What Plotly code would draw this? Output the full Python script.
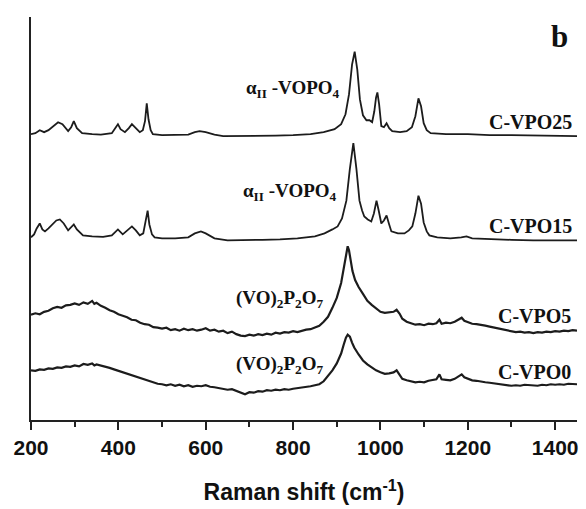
import plotly.graph_objects as go

# ---------------- data (Raman shift in cm-1, intensity in a.u., offset for display) -------------
x_vpo25 = [200, 210, 220, 230, 240, 250, 262, 272, 285, 292, 298, 305, 317, 340, 360, 385, 393, 399,
           405, 415, 424, 431, 440, 449, 456, 461, 465, 469, 474, 479, 500, 530, 560, 575, 586, 600,
           620, 640, 680, 720, 760, 800, 840, 870, 895, 910, 920, 928, 935, 941, 947, 953, 960, 968,
           975, 981, 986, 990, 993, 997, 1002, 1008, 1014, 1020, 1027, 1045, 1060, 1072, 1080, 1087,
           1093, 1099, 1106, 1115, 1150, 1200, 1250, 1300, 1350, 1400, 1450]
y_vpo25 = [288, 289, 292, 290, 292, 296, 300, 298, 291, 295, 301, 294, 289, 288, 287.5, 289, 294, 298,
           293, 290, 294, 298, 294, 290, 292, 301, 319, 303, 292, 288, 287, 287, 287.5, 290, 291, 290,
           287.5, 286, 286, 286, 286.5, 287, 288, 290, 293, 298, 308, 328, 358, 371, 353, 323, 307, 302,
           302, 300, 311, 325, 330, 318, 296, 295, 299, 294, 291, 290, 291, 295, 306, 324,
           316, 299, 292, 289, 288, 288, 287, 287, 286.5, 286, 286]

x_vpo15 = [200, 207, 213, 220, 226, 232, 240, 250, 258, 266, 275, 285, 292, 298, 305, 319, 340, 365,
           385, 393, 399, 410, 422, 431, 440, 449, 457, 462, 467, 471, 477, 483, 500, 530, 560, 575,
           589, 600, 620, 650, 690, 730, 770, 810, 850, 872, 890, 902, 912, 922, 930, 938, 945, 952,
           958, 963, 971, 979, 985, 991, 996, 1002, 1008, 1014, 1020, 1025, 1040, 1055, 1065, 1073,
           1080, 1087, 1093, 1099, 1106, 1112, 1130, 1160, 1185, 1197, 1210, 1250, 1300, 1350, 1400, 1450]
y_vpo15 = [184, 187, 193, 198, 192, 190, 193, 198, 201, 202, 198, 191, 194, 197, 192, 186, 185, 184.5,
           186, 190, 192, 187, 192, 195, 191, 186, 188, 198, 211, 197, 187, 184, 183, 183, 184, 188,
           190, 188, 183, 181, 181, 181.5, 182, 183, 185, 188, 192, 195, 203, 221, 253, 279, 253, 221,
           211, 205, 202, 200, 208, 221, 211, 198, 201, 206, 197, 190, 188, 188, 191, 195,
           208, 226, 218, 199, 190, 186, 184, 183, 184, 185, 183, 182, 181.5, 181, 181, 181]

x_vpo5 = [200, 210, 220, 230, 240, 250, 260, 270, 280, 290, 300, 310, 320, 330, 340, 345, 350, 360,
          370, 380, 390, 400, 410, 420, 430, 440, 450, 460, 470, 480, 490, 500, 510, 520, 530, 540,
          550, 560, 570, 580, 590, 600, 610, 620, 630, 640, 650, 660, 670, 680, 690, 700, 710, 720,
          730, 740, 750, 760, 770, 780, 790, 800, 810, 820, 830, 840, 850, 860, 870, 880, 890, 900,
          910, 917, 922, 925, 928, 932, 936, 942, 950, 960, 970, 980, 990, 1000, 1010, 1020, 1030,
          1037, 1044, 1050, 1060, 1070, 1080, 1090, 1100, 1110, 1120, 1128, 1135, 1140, 1150, 1160,
          1170, 1180, 1186, 1192, 1200, 1210, 1220, 1230, 1240, 1250, 1260, 1270, 1280, 1290, 1300,
          1310, 1320, 1330, 1340, 1350, 1360, 1370, 1380, 1390, 1400, 1410, 1420, 1430, 1440, 1450]
y_vpo5 = [106, 107.5, 106.5, 109, 110, 112.5, 114, 113, 115.5, 116, 117.5, 116, 118.5, 117, 120, 117, 118, 115,
          113, 110.5, 109, 106.5, 105, 103.5, 101, 100.5, 98, 96.5, 96, 93.5, 93, 92, 93, 90.5, 91.5, 90,
          92, 90.5, 91.5, 90, 91, 92.5, 90, 91, 89, 90, 87.5, 89, 86.5, 85, 84.5, 86, 85, 86.5,
          85.5, 87, 86, 88, 87, 88.5, 88, 89.5, 88.5, 90, 91, 91.5, 93, 95, 99, 104, 113, 123,
          138, 155, 168, 175, 171, 160, 150, 141, 134, 127, 120, 116, 112.5, 109, 108, 108.5, 109,
          111, 107, 102, 99, 97.5, 96, 96.5, 95.5, 97, 96.5, 97.5, 101, 97, 98, 97.5,
          99, 101.5, 103, 100, 98.5, 97, 96.5, 96, 95, 94, 93, 92.5, 91, 90, 89.5,
          88.5, 89, 88, 88.5, 87.5, 88.5, 88, 89, 88.5, 89.5, 89, 90, 89.5, 90.5, 90]

x_vpo0 = x_vpo5[:73] + [916, 921, 925, 930, 935, 940, 950, 960, 970, 980, 990, 1000, 1010, 1020, 1030,
                        1037, 1044, 1050, 1060, 1070, 1080, 1090, 1100, 1110, 1120, 1128, 1135, 1140,
                        1150, 1160, 1170, 1180, 1186, 1192, 1200, 1210, 1220, 1230, 1240, 1250, 1260,
                        1270, 1280, 1290, 1300, 1310, 1320, 1330, 1340, 1350, 1360, 1370, 1380, 1390,
                        1400, 1410, 1420, 1430, 1440, 1450]
y_vpo0 = [50, 49.5, 51, 50.5, 52, 51.5, 53, 52.5, 54, 53.5, 55, 54, 56.5, 55.5, 57, 55, 56, 55,
          54, 52.5, 51, 49.5, 48, 46.5, 45, 43.5, 42, 40.5, 39, 37.5, 36.5, 36, 35, 36, 34.5, 35.5,
          34, 35, 33.5, 34.5, 34, 35, 33.5, 33, 32, 31.5, 30.5, 31, 29.5, 28, 26, 28, 27.5, 29,
          28.5, 30, 29.5, 30.5, 30, 31, 30.5, 31.5, 32, 32.5, 33, 34, 35, 36, 39, 44, 50, 57,
          67, 76, 83, 86, 84, 78, 73, 66, 60, 56, 53, 50, 48, 46.5, 47, 48,
          50, 46, 41.5, 40, 39, 38, 38.5, 38, 39.5, 40, 41, 46, 41,
          40.5, 40, 41.5, 44, 46, 43, 41.5, 40, 39.5, 38.5, 38, 37.5, 37,
          36, 35.5, 35, 34.5, 35, 34.5, 35.5, 35, 35, 34.5, 35.5, 35, 36,
          35.5, 36, 35.5, 36.5, 36, 36]

series_names = ["C-VPO25", "C-VPO15", "C-VPO5", "C-VPO0"]
x_ticks = [200, 400, 600, 800, 1000, 1200, 1400]

# ---------------- figure -------------
fig = go.Figure()
line_col = "#1c1c1c"
for name, xs, ys, w in [("C-VPO25", x_vpo25, y_vpo25, 1.8),
                        ("C-VPO15", x_vpo15, y_vpo15, 1.8),
                        ("C-VPO5", x_vpo5, y_vpo5, 2.2),
                        ("C-VPO0", x_vpo0, y_vpo0, 2.2)]:
    fig.add_trace(go.Scatter(x=xs, y=ys, mode="lines", name=name,
                             line=dict(color=line_col, width=w), showlegend=False))

serif = "Liberation Serif, Times New Roman, serif"
ann = [
    dict(x=799, y=333, text="<b>α<sub>II</sub> -VOPO<sub>4</sub></b>", xanchor="center", size=19),
    dict(x=792, y=230, text="<b>α<sub>II</sub> -VOPO<sub>4</sub></b>", xanchor="center", size=19),
    dict(x=769, y=122, text="<b>(VO)<sub>2</sub>P<sub>2</sub>O<sub>7</sub></b>", xanchor="center", size=19),
    dict(x=769, y=55, text="<b>(VO)<sub>2</sub>P<sub>2</sub>O<sub>7</sub></b>", xanchor="center", size=19),
    dict(x=1443, y=300, text="<b>C-VPO25</b>", xanchor="right", size=20),
    dict(x=1443, y=195, text="<b>C-VPO15</b>", xanchor="right", size=20),
    dict(x=1440, y=105, text="<b>C-VPO5</b>", xanchor="right", size=20),
    dict(x=1440, y=48, text="<b>C-VPO0</b>", xanchor="right", size=20),
]
for a in ann:
    fig.add_annotation(x=a["x"], y=a["y"], xref="x", yref="y", text=a["text"],
                       xanchor=a["xanchor"], yanchor="middle", showarrow=False,
                       font=dict(family=serif, size=a["size"], color="#111"))
fig.add_annotation(x=1409, y=386, xref="x", yref="y", text="<b>b</b>", showarrow=False,
                   xanchor="center", yanchor="middle",
                   font=dict(family=serif, size=31, color="#111"))

sans = "Liberation Sans, Arial, sans-serif"
fig.update_layout(
    width=586, height=509,
    margin=dict(l=31, r=8, t=17, b=86),
    plot_bgcolor="white", paper_bgcolor="white",
    xaxis=dict(range=[200, 1450], showgrid=False, zeroline=False,
               showline=True, linecolor="#222", linewidth=2,
               ticks="outside", ticklen=8, tickwidth=2, tickcolor="#222",
               tickvals=x_ticks, ticktext=[str(v) for v in x_ticks],
               minor=dict(ticks="outside", dtick=100, tick0=200, ticklen=5, tickwidth=1.5, tickcolor="#222"),
               tickfont=dict(family=sans, size=21, color="#111", weight="bold"),
               title=dict(text="Raman shift (cm<sup>-1</sup>)", standoff=26,
                          font=dict(family=sans, size=23, color="#111", weight="bold"))),
    yaxis=dict(range=[0, 406], showgrid=False, zeroline=False, showticklabels=False,
               showline=True, linecolor="#222", linewidth=2, ticks=""),
)

fig.write_html("out.html")
